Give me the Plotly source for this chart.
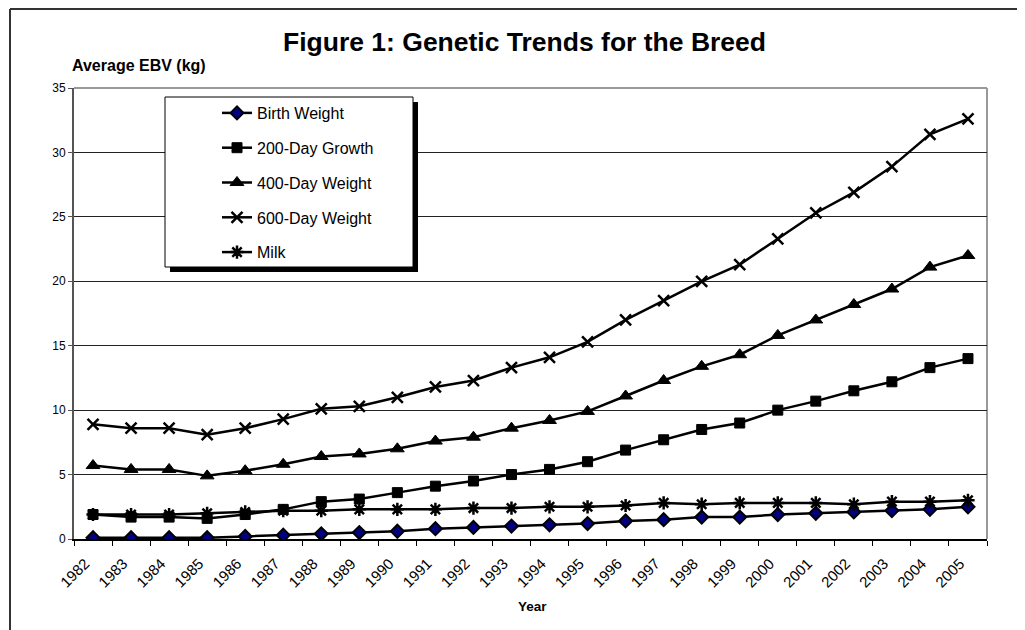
import plotly.graph_objects as go

years = [str(y) for y in range(1982, 2006)]

birth_weight = [0.1, 0.1, 0.1, 0.1, 0.2, 0.3, 0.4, 0.5, 0.6, 0.8, 0.9, 1.0,
                1.1, 1.2, 1.4, 1.5, 1.7, 1.7, 1.9, 2.0, 2.1, 2.2, 2.3, 2.5]
growth_200 = [1.9, 1.7, 1.7, 1.6, 1.9, 2.3, 2.9, 3.1, 3.6, 4.1, 4.5, 5.0,
              5.4, 6.0, 6.9, 7.7, 8.5, 9.0, 10.0, 10.7, 11.5, 12.2, 13.3, 14.0]
weight_400 = [5.7, 5.4, 5.4, 4.9, 5.3, 5.8, 6.4, 6.6, 7.0, 7.6, 7.9, 8.6,
              9.2, 9.9, 11.1, 12.3, 13.4, 14.3, 15.8, 17.0, 18.2, 19.4, 21.1, 22.0]
weight_600 = [8.9, 8.6, 8.6, 8.1, 8.6, 9.3, 10.1, 10.3, 11.0, 11.8, 12.3, 13.3,
              14.1, 15.3, 17.0, 18.5, 20.0, 21.3, 23.3, 25.3, 26.9, 28.9, 31.4, 32.6]
milk = [1.9, 1.9, 1.9, 2.0, 2.1, 2.2, 2.2, 2.3, 2.3, 2.3, 2.4, 2.4,
        2.5, 2.5, 2.6, 2.8, 2.7, 2.8, 2.8, 2.8, 2.7, 2.9, 2.9, 3.0]

series_names = ["Birth Weight", "200-Day Growth", "400-Day Weight", "600-Day Weight", "Milk"]

OFF = 8  # page body margin offset
W, H = 1025, 630
# plot area in screenshot pixels, converted to figure pixels
L, R, T, B = 74 - OFF, 987 - OFF, 88 - OFF, 539 - OFF
PW, PH = R - L, B - T

def px(x):
    return (x - OFF - L) / PW

def py(y):
    return (B - (y - OFF)) / PH

FONT = "Liberation Sans, Arial, sans-serif"
LINE_W = 2.5

fig = go.Figure()

fig.add_trace(go.Scatter(
    x=years, y=birth_weight, name=series_names[0], mode="lines+markers",
    line=dict(color="black", width=LINE_W), legendgroup="a",
    marker=dict(symbol="diamond", size=10, color="#000080", line=dict(color="black", width=2))))
fig.add_trace(go.Scatter(
    x=years, y=growth_200, name=series_names[1], mode="lines+markers",
    line=dict(color="black", width=LINE_W), legendgroup="b",
    marker=dict(symbol="square", size=10, color="black", line=dict(color="black", width=1))))
fig.add_trace(go.Scatter(
    x=years, y=weight_400, name=series_names[2], mode="lines+markers",
    line=dict(color="black", width=LINE_W), legendgroup="c",
    marker=dict(symbol="triangle-up", size=12, color="black", line=dict(color="black", width=1))))
fig.add_trace(go.Scatter(
    x=years, y=weight_600, name=series_names[3], mode="lines+markers",
    line=dict(color="black", width=LINE_W), legendgroup="d",
    marker=dict(symbol="x-thin-open", size=11, color="black", line=dict(color="black", width=2.5))))
fig.add_trace(go.Scatter(
    x=years, y=milk, name=series_names[4], mode="lines+markers",
    line=dict(color="black", width=LINE_W), legendgroup="e",
    marker=dict(symbol="asterisk-open", size=11, color="black", line=dict(color="black", width=2.5))))

shapes = [
    # plot-area border (top and right, gray)
    dict(type="line", xref="paper", yref="paper", x0=0, x1=1, y0=1, y1=1,
         line=dict(color="#999999", width=2), layer="below"),
    dict(type="line", xref="paper", yref="paper", x0=1, x1=1, y0=0, y1=1,
         line=dict(color="#999999", width=2), layer="below"),
    # outer chart frame (left and top visible)
    dict(type="line", xref="paper", yref="paper", x0=px(10), x1=px(10), y0=py(9), y1=py(700),
         line=dict(color="#333333", width=2)),
    dict(type="line", xref="paper", yref="paper", x0=px(10), x1=px(1100), y0=py(9), y1=py(9),
         line=dict(color="#333333", width=2)),
    # legend shadow and box
    dict(type="rect", xref="paper", yref="paper", x0=px(170), x1=px(418), y0=py(272), y1=py(102),
         fillcolor="black", line=dict(width=0), layer="above"),
    dict(type="rect", xref="paper", yref="paper", x0=px(165), x1=px(413), y0=py(267), y1=py(97),
         fillcolor="white", line=dict(color="black", width=1), layer="above"),
]

annotations = [
    dict(text="Average EBV (kg)", xref="paper", yref="paper", x=px(70), y=py(66),
         xanchor="left", yanchor="middle", showarrow=False,
         font=dict(family=FONT, size=16, color="black", weight="bold")),
    dict(text="Year", xref="paper", yref="paper", x=px(532), y=py(606),
         xanchor="center", yanchor="middle", showarrow=False,
         font=dict(family=FONT, size=13.5, color="black", weight="bold")),
]

fig.update_layout(
    width=W, height=H,
    margin=dict(l=L, r=W - R, t=T, b=H - B, pad=0),
    paper_bgcolor="white", plot_bgcolor="white",
    title=dict(text="Figure 1: Genetic Trends for the Breed",
               x=(524.5 - OFF) / W, xref="container", xanchor="center",
               y=1 - (42 - OFF) / H, yref="container", yanchor="middle",
               font=dict(family=FONT, size=26.5, color="black", weight="bold")),
    font=dict(family=FONT, color="black"),
    showlegend=True,
    legend=dict(x=px(217), y=py(96), xanchor="left", yanchor="top",
                bgcolor="rgba(0,0,0,0)", borderwidth=0,
                font=dict(family=FONT, size=16, color="black"),
                tracegroupgap=11, itemwidth=30),
    shapes=shapes,
    annotations=annotations,
    xaxis=dict(type="category", tickson="boundaries", ticks="outside", ticklen=5,
               tickcolor="black", tickwidth=1, showline=True, linecolor="black", linewidth=2,
               showgrid=False, tickangle=-45, tickfont=dict(family=FONT, size=15, color="black"),
               ticklabelstandoff=8, ticklabelshift=-8,
               zeroline=False, range=[-0.5, len(years) - 0.5]),
    yaxis=dict(range=[0, 35], dtick=5, tick0=0, ticks="outside", ticklen=4,
               tickcolor="#555555", showline=True, linecolor="#555555", linewidth=2,
               showgrid=True, gridcolor="#222222", gridwidth=1, zeroline=False,
               tickfont=dict(family=FONT, size=12, color="black")),
)

fig.write_html("out.html")
